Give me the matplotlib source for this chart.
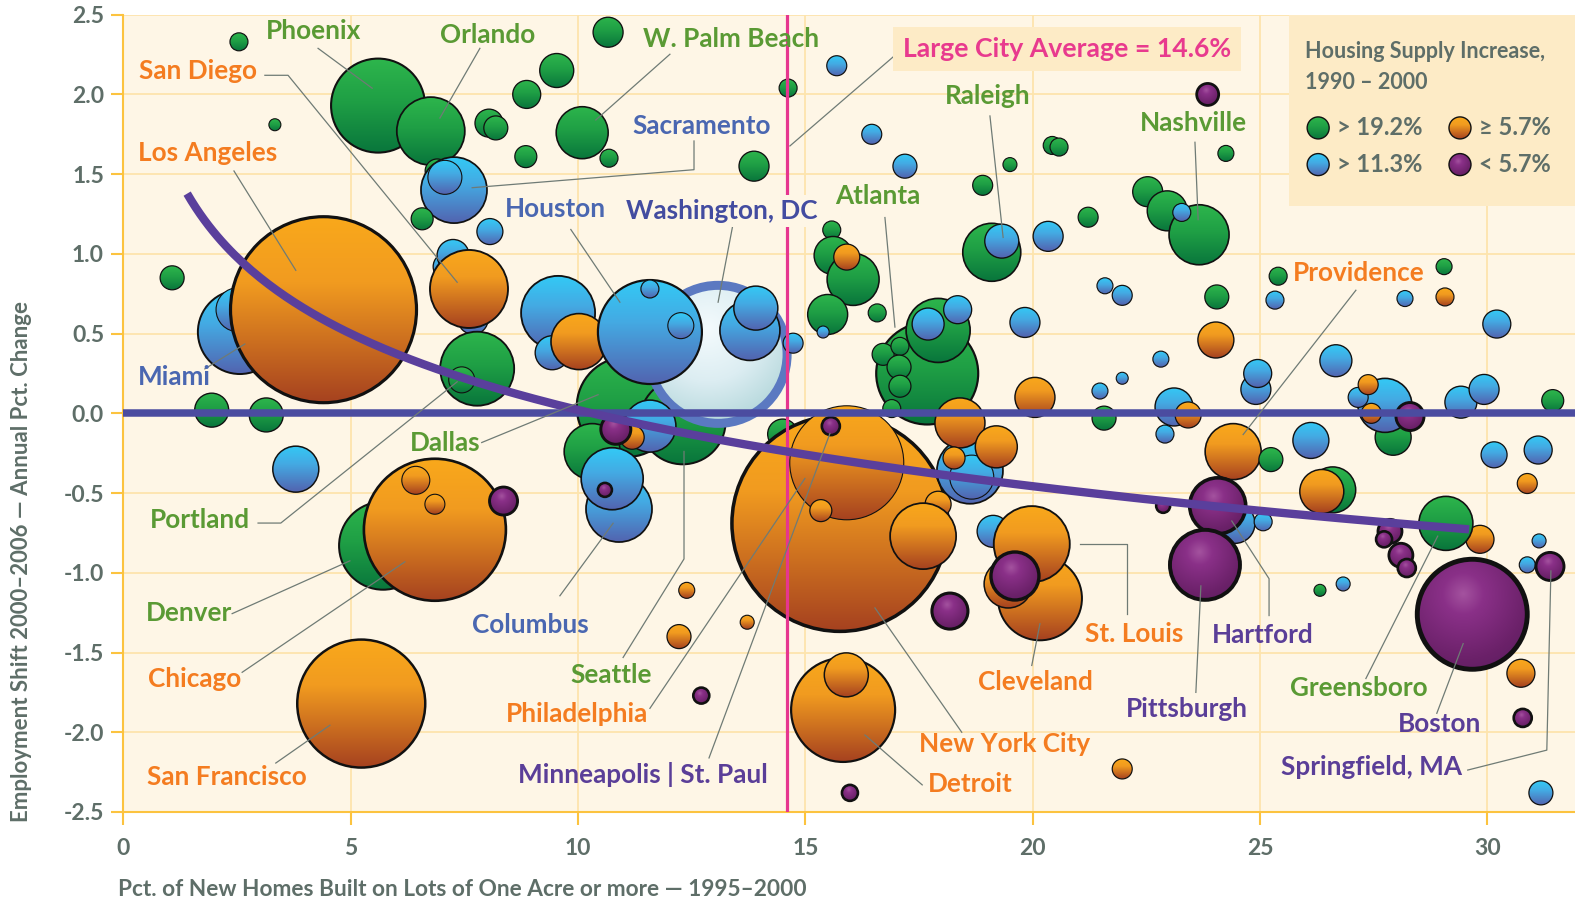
import numpy as np
import matplotlib
matplotlib.use("Agg")
import matplotlib.pyplot as plt
from matplotlib.patches import Ellipse, Rectangle
from matplotlib.colors import to_rgb

plt.rcParams["font.family"] = ["Lato", "DejaVu Sans"]
plt.rcParams["font.weight"] = "bold"

# ---------------------------------------------------------
# data: one bubble per metro area (drawn in this order)
#   lot_pct   = pct. of new homes on lots of 1 acre or more
#   emp_shift = employment shift, annual pct. change
#   metro_r   = bubble radius (px)
#   supply    = housing supply increase group
#               g > 19.2%, b > 11.3%, o >= 5.7%, p < 5.7%
#               upper case = metro nested inside a bigger one
#               D = Washington, DC
# ---------------------------------------------------------
lot_pct = [
    2.54, 3.33, 5.60, 6.76, 8.04, 8.19, 8.87, 8.85, 9.53, 10.66,
    10.09, 10.68, 13.87, 14.62, 15.69, 16.46, 17.19, 6.90, 7.27, 7.07,
    6.57, 8.06, 1.07, 7.12, 7.25, 7.69, 7.60, 7.78, 7.44, 2.56,
    2.52, 4.40, 1.94, 3.14, 3.79, 5.71, 6.85, 6.43, 6.85, 8.36,
    5.23, 11.07, 10.31, 12.30, 13.08, 9.56, 9.43, 10.02, 11.58, 12.26,
    11.58, 13.78, 13.91, 14.73, 11.58, 14.50, 11.19, 10.83, 10.90, 10.75,
    10.59, 15.76, 15.91, 15.56, 15.34, 15.58, 15.61, 16.05, 15.91, 15.49,
    15.39, 16.58, 17.68, 17.92, 17.70, 18.35, 16.71, 17.08, 17.06, 17.08,
    16.90, 19.10, 19.32, 18.90, 19.50, 20.43, 20.34, 19.83, 20.05, 18.62,
    18.66, 18.40, 19.20, 18.27, 17.92, 17.59, 19.13, 20.16, 19.46, 19.98,
    19.61, 18.18, 12.39, 12.22, 13.72, 12.71, 15.83, 15.90, 15.98, 21.97,
    23.85, 20.58, 24.25, 22.53, 22.96, 23.66, 23.28, 21.22, 25.40, 29.05,
    25.33, 28.19, 29.07, 24.05, 21.59, 21.97, 30.21, 24.03, 22.82, 21.97,
    21.48, 21.57, 23.11, 23.42, 22.91, 24.91, 24.95, 24.41, 25.24, 26.67,
    26.12, 26.60, 26.36, 24.45, 25.07, 24.07, 22.87, 23.79, 27.93, 27.75,
    27.16, 27.38, 27.45, 28.30, 29.42, 29.93, 31.44, 30.15, 31.12, 30.88,
    29.84, 29.09, 27.86, 27.73, 28.10, 28.23, 31.14, 30.88, 31.38, 26.32,
    26.83, 29.67, 30.74, 30.78, 31.18,
]
emp_shift = [
    2.33, 1.81, 1.93, 1.77, 1.82, 1.79, 2.00, 1.61, 2.15, 2.39,
    1.76, 1.60, 1.55, 2.04, 2.18, 1.75, 1.55, 1.52, 1.40, 1.48,
    1.22, 1.14, 0.85, 0.92, 0.99, 0.59, 0.78, 0.28, 0.21, 0.51,
    0.65, 0.65, 0.02, -0.01, -0.35, -0.83, -0.73, -0.42, -0.57, -0.55,
    -1.82, 0.04, -0.24, -0.05, 0.37, 0.63, 0.38, 0.45, 0.51, 0.55,
    0.78, 0.52, 0.66, 0.44, -0.08, -0.13, -0.15, -0.10, -0.60, -0.41,
    -0.48, -0.69, -0.31, -0.08, -0.61, 1.15, 0.99, 0.84, 0.98, 0.62,
    0.51, 0.63, 0.25, 0.52, 0.56, 0.65, 0.37, 0.42, 0.29, 0.17,
    0.03, 1.01, 1.08, 1.43, 1.56, 1.68, 1.11, 0.57, 0.10, -0.36,
    -0.40, -0.06, -0.21, -0.28, -0.57, -0.77, -0.74, -1.16, -1.07, -0.82,
    -1.02, -1.24, -1.11, -1.40, -1.31, -1.77, -1.86, -1.64, -2.38, -2.23,
    2.00, 1.67, 1.63, 1.39, 1.27, 1.12, 1.26, 1.23, 0.86, 0.92,
    0.71, 0.72, 0.73, 0.73, 0.80, 0.74, 0.56, 0.46, 0.34, 0.22,
    0.14, -0.03, 0.04, -0.01, -0.13, 0.15, 0.25, -0.24, -0.29, 0.33,
    -0.17, -0.48, -0.49, -0.69, -0.68, -0.58, -0.58, -0.95, -0.15, 0.05,
    0.10, 0.18, 0.00, -0.02, 0.07, 0.15, 0.08, -0.26, -0.23, -0.44,
    -0.79, -0.69, -0.74, -0.79, -0.89, -0.97, -0.80, -0.95, -0.96, -1.11,
    -1.07, -1.26, -1.63, -1.91, -2.38,
]
metro_r = [
    9, 6, 47, 34, 14, 12, 14, 11, 17, 15,
    26, 9, 15, 9, 10, 10, 12, 12, 33, 17,
    11, 13, 12, 14, 16, 15, 39, 37, 13, 42,
    22, 93, 17, 17, 23, 44, 71, 14, 10, 14,
    64, 50, 28, 43, 69, 37, 17, 28, 52, 13,
    9, 30, 22, 10, 26, 15, 12, 15, 33, 31,
    7, 108, 57, 9, 11, 9, 19, 26, 13, 20,
    6, 9, 51, 32, 16, 14, 11, 9, 12, 11,
    9, 29, 17, 10, 7, 9, 15, 15, 20, 33,
    22, 25, 21, 11, 13, 33, 16, 42, 24, 38,
    24, 18, 8, 12, 7, 8, 52, 22, 8, 10,
    11, 9, 8, 15, 20, 30, 9, 10, 9, 8,
    9, 8, 9, 12, 8, 10, 14, 18, 8, 6,
    8, 12, 19, 13, 9, 15, 14, 28, 12, 16,
    18, 23, 22, 20, 9, 28, 7, 35, 18, 27,
    10, 10, 10, 14, 16, 15, 11, 13, 14, 10,
    14, 27, 12, 8, 12, 9, 7, 8, 14, 6,
    7, 55, 14, 9, 12,
]
supply = list(
    "gggggggggg" "ggggbbbgbB" "gbgbbbogGb" "BoggbgoOOp" "ogggDbbobB"
    "bbbbbgopbb" "poOpogggog" "bgggbbgggg" "ggbgggbbob" "Booooobooo"
    "ppooopoopo" "pgggggbggg" "bbogbbbobb" "bgbobbbogb" "bgobbpppgb"
    "boopbbgbbo" "ogppppbbpg" "bpopb"
)

# labelled metros
city_names = [
    "Phoenix", "Orlando", "W. Palm Beach", "San Diego", "Los Angeles",
    "Sacramento", "Houston", "Washington, DC", "Atlanta", "Raleigh",
    "Nashville", "Providence", "Miami", "Dallas", "Portland", "Denver",
    "Chicago", "San Francisco", "Columbus", "Seattle", "Philadelphia",
    "Minneapolis | St. Paul", "New York City", "Detroit", "Cleveland",
    "St. Louis", "Hartford", "Pittsburgh", "Greensboro", "Boston",
    "Springfield, MA",
]
name_x = [4.19, 8.02, 13.36, 1.64, 1.84, 12.72, 9.51, 13.17, 16.60, 19.00,
          23.53, 27.18, 1.11, 7.07, 1.68, 1.44, 1.57, 2.28, 8.96, 10.72,
          9.98, 11.43, 19.39, 18.62, 20.07, 22.23, 25.07, 23.39, 27.18,
          28.96, 27.46]
name_y = [2.395, 2.37, 2.345, 2.15, 1.63, 1.80, 1.28, 1.27, 1.36, 1.99,
          1.82, 0.878, 0.229, -0.183, -0.67, -1.251, -1.663, -2.281,
          -1.326, -1.643, -1.887, -2.262, -2.075, -2.325, -1.687, -1.381,
          -1.388, -1.857, -1.725, -1.95, -2.218]
name_grp = ["g", "g", "g", "o", "o", "b", "b", "d", "g", "g", "g", "o", "b",
            "g", "g", "g", "o", "o", "b", "g", "o", "p", "o", "o", "o", "o",
            "p", "p", "g", "p", "p"]
leaders = [
    [(4.28, 2.289), (5.47, 2.039)],
    [(7.84, 2.289), (6.96, 1.852)],
    [(12.02, 2.252), (10.39, 1.84)],
    [(3.11, 2.12), (3.62, 2.12), (7.34, 0.822)],
    [(2.43, 1.52), (3.79, 0.897)],
    [(12.55, 1.708), (12.55, 1.528), (7.67, 1.415)],
    [(9.84, 1.153), (10.92, 0.697)],
    [(13.43, 1.22), (13.08, 0.697)],
    [(16.75, 1.228), (16.97, 0.541)],
    [(19.06, 1.865), (19.35, 1.103)],
    [(23.57, 1.70), (23.64, 1.215)],
    [(27.11, 0.772), (24.63, -0.133)],
    [(1.79, 0.279), (2.67, 0.435)],
    [(7.88, -0.183), (10.44, 0.117)],
    [(2.96, -0.688), (3.46, -0.688), (7.34, 0.198)],
    [(2.39, -1.256), (4.98, -0.925)],
    [(2.61, -1.624), (6.19, -0.931)],
    [(3.35, -2.193), (4.54, -1.956)],
    [(9.60, -1.144), (10.77, -0.689)],
    [(10.99, -1.531), (12.33, -0.913), (12.33, -0.239)],
    [(11.58, -1.85), (14.99, -0.408)],
    [(12.88, -2.161), (15.54, -0.126)],
    [(18.44, -2.0), (16.53, -1.22)],
    [(17.57, -2.33), (16.31, -2.017)],
    [(19.98, -1.581), (20.16, -1.319)],
    [(22.07, -1.257), (22.07, -0.82), (21.04, -0.82)],
    [(25.20, -1.268), (25.20, -1.037), (24.38, -0.675)],
    [(23.59, -1.75), (23.70, -1.082)],
    [(27.33, -1.663), (28.91, -0.77)],
    [(28.89, -1.881), (29.47, -1.444)],
    [(29.57, -2.237), (31.31, -2.112), (31.40, -0.988)],
]

LARGE_CITY_AVG = 14.6
# log trend line: y = A - B * ln(x)
TREND_A, TREND_B = 1.61, 0.69
TREND_X0, TREND_X1 = 1.4, 29.6

legend_keys = ["g", "o", "b", "p"]
legend_text = ["> 19.2%", "\u2265 5.7%", "> 11.3%", "< 5.7%"]

# ---------------------------------------------------------
# colours
# ---------------------------------------------------------
GRAY = "#5e6e68"
GOLD = "#fcc33f"
CREAM = "#fef6e6"
BOX = "#fdebc6"
TEXT_COL = {"g": "#5a9a34", "o": "#f47c20", "b": "#4a67b1",
            "d": "#434ca0", "p": "#5a3e98"}


def vertical_fill(stops, n=64):
    t = np.linspace(0, 1, n)
    pos = [s[0] for s in stops]
    cols = np.array([to_rgb(s[1]) for s in stops])
    rgb = np.stack([np.interp(t, pos, cols[:, k]) for k in range(3)], axis=-1)
    return np.repeat(rgb[:, None, :], n, axis=1)


def radial_fill(stops, cx, cy, n=96):
    yy, xx = np.mgrid[0:n, 0:n] / (n - 1)
    d = np.hypot(xx - cx, yy - cy) / 0.85
    pos = [s[0] for s in stops]
    cols = np.array([to_rgb(s[1]) for s in stops])
    return np.stack([np.interp(d, pos, cols[:, k]) for k in range(3)], axis=-1)


FILLS = {
    "g": vertical_fill([(0, "#2db54c"), (0.45, "#1f9f45"), (1, "#09763c")]),
    "b": vertical_fill([(0, "#33c9f5"), (0.4, "#44aae3"), (1, "#5264b0")]),
    "o": vertical_fill([(0, "#f9a81b"), (0.35, "#f19b20"), (1, "#a6421f")]),
    "p": radial_fill([(0, "#a4539f"), (0.22, "#8a3088"), (0.7, "#6b2169"),
                      (1, "#5a1c5e")], 0.42, 0.32),
    "d": radial_fill([(0, "#f4fbfd"), (0.45, "#dcedf2"), (1, "#a3ced1")],
                     0.42, 0.32),
}

# ---------------------------------------------------------
# figure / axes geometry (px at dpi 100)
# ---------------------------------------------------------
W_PX, H_PX = 1575, 910
AX_L, AX_B, AX_W, AX_H = 123.5, 98, 1451.5, 797.3
XMAX = 31.93
YMIN, YMAX = -2.5, 2.5
PXX = AX_W / XMAX
PXY = AX_H / (YMAX - YMIN)

fig = plt.figure(figsize=(W_PX / 100, H_PX / 100), dpi=100)
ax = fig.add_axes([AX_L / W_PX, AX_B / H_PX, AX_W / W_PX, AX_H / H_PX])
ax.set_facecolor(CREAM)


def bubble(x, y, r, key, lw, ec="#111111", z=3):
    w, h = 2 * r / PXX, 2 * r / PXY
    edge = Ellipse((x, y), w, h, fc="none", ec=ec, lw=lw, zorder=z)
    im = ax.imshow(FILLS[key], extent=[x - w / 2, x + w / 2, y - h / 2, y + h / 2],
                   aspect="auto", origin="upper", interpolation="bilinear",
                   zorder=z)
    ax.add_patch(edge)
    im.set_clip_path(edge)


for x, y, r, grp in zip(lot_pct, emp_shift, metro_r, supply):
    key = grp.lower()
    if grp == "D":
        bubble(x, y, r, "d", lw=6.5, ec="#5b79c1")
    elif grp.isupper():
        bubble(x, y, r, key, lw=0.8)
    elif key == "p":
        bubble(x, y, r, key, lw=1.6 + r * 0.035)
    else:
        bubble(x, y, r, key, lw=0.7 + r * 0.017)

# reference lines
ax.axvline(LARGE_CITY_AVG, color="#e6368f", lw=2.3, zorder=40)
ax.axhline(0, color="#4b4ca0", lw=5.4, zorder=41)
tx = np.linspace(TREND_X0, TREND_X1, 300)
ax.plot(tx, TREND_A - TREND_B * np.log(tx), color="#5a3f9c", lw=6,
        solid_capstyle="butt", zorder=42)

# city labels + leader lines
for name, x, y, grp, path in zip(city_names, name_x, name_y, name_grp, leaders):
    px, py = zip(*path)
    ax.plot(px, py, color="#6f7b75", lw=0.9, zorder=45)
    kw = {}
    if grp == "d":
        kw["bbox"] = dict(boxstyle="square,pad=0.15", fc=CREAM, ec="none")
    ax.text(x, y, name, color=TEXT_COL[grp], fontsize=18.8, ha="center",
            va="center", zorder=50, **kw)

# large city average callout
ax.plot([16.97, 14.66], [2.245, 1.677], color="#6f7b75", lw=0.9, zorder=45)
ax.text(20.75, 2.283, f"Large City Average = {LARGE_CITY_AVG}%",
        color="#e83a8e", fontsize=19.2, ha="center", va="center", zorder=50,
        bbox=dict(boxstyle="square,pad=0.38", fc=BOX, ec="none"))

# legend box
ax.add_patch(Rectangle((0.803, 0.7604), 0.197, 0.2396, transform=ax.transAxes,
                       fc=BOX, ec="none", zorder=1.6))
ax.text(26.0, 2.27, "Housing Supply Increase,", color=GRAY, fontsize=15.5,
        ha="left", va="center", zorder=50)
ax.text(26.0, 2.075, "1990 \u2013 2000", color=GRAY, fontsize=15.5,
        ha="left", va="center", zorder=50)
leg_x = [26.28, 29.40, 26.28, 29.40]
leg_y = [1.79, 1.79, 1.56, 1.56]
for k, t, lx, ly in zip(legend_keys, legend_text, leg_x, leg_y):
    bubble(lx, ly, 11, k, lw=1.0, z=48)
    ax.text(lx + 0.42, ly, t, color=GRAY, fontsize=17, ha="left",
            va="center", zorder=50)

# axes styling
ax.set_xlim(0, XMAX)
ax.set_ylim(YMIN, YMAX)
xt = [0, 5, 10, 15, 20, 25, 30]
yt = np.arange(-2.5, 2.51, 0.5)
ax.set_xticks(xt)
ax.set_xticklabels([str(v) for v in xt])
ax.set_yticks(yt)
ax.set_yticklabels([f"{v:.1f}" for v in yt])
ax.grid(True, color="#fde4ad", lw=1.3, zorder=1)
ax.set_axisbelow(True)
for s in ["top", "right"]:
    ax.spines[s].set_visible(False)
for s in ["left", "bottom"]:
    ax.spines[s].set_color(GOLD)
    ax.spines[s].set_linewidth(1.5)
ax.tick_params(colors=GOLD, labelcolor=GRAY, length=9, width=1.5,
               labelsize=16.5)
ax.tick_params(axis="x", pad=10)
ax.tick_params(axis="y", pad=5)

fig.text(22 / W_PX, 1 - 561 / H_PX,
         "Employment Shift 2000\u20132006 \u2014 Annual Pct. Change",
         rotation=90, ha="center", va="center", color=GRAY, fontsize=16)
fig.text(118 / W_PX, 1 - 890 / H_PX,
         "Pct. of New Homes Built on Lots of One Acre or more \u2014 1995\u20132000",
         ha="left", va="center", color=GRAY, fontsize=16.3)

fig.savefig("out.png", dpi=100, facecolor="white")
